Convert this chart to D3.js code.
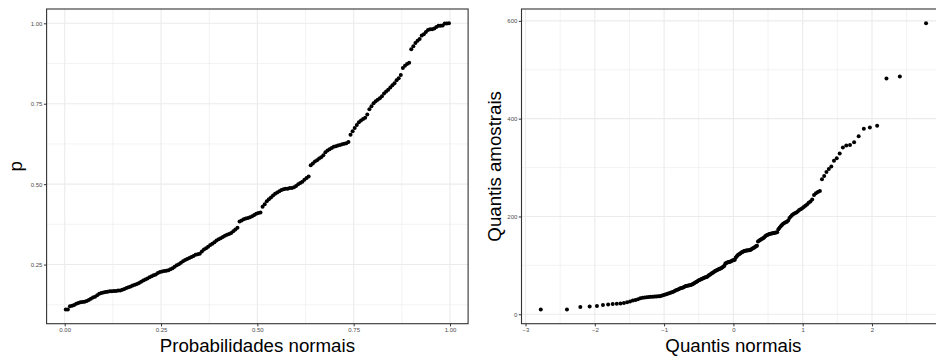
<!DOCTYPE html>
<html><head><meta charset="utf-8">
<script src="https://cdn.jsdelivr.net/npm/d3@7"></script>
<style>
body{margin:0;background:#fff}
svg{display:block}
text{font-family:"Liberation Sans",Arial,Helvetica,sans-serif}
</style>
</head><body>
<svg id="chart" width="936" height="356"></svg>
<script>
const sampleValues = [
 10,10,15,16,17,19,20,21,21.5,22,
 23,24.5,26,28,29,31,33,34,34.5,35,
 35.5,36,36,36.5,36.5,37,37,38,39,40,
 41,42,43,44,45,46,47.5,49,50,51,
 52.5,53.5,54.5,55.5,57,58,58.5,59,59.5,60,
 61,62,63.5,65,66,67.5,69,70,71,72,
 73,74,75,75.5,76,78,80,81,82.5,84,
 85,86.5,88,89,90,91,92,93,93.5,94.5,
 96,97.5,99,104,105,106,106.5,107,107.5,108.5,
 109.5,110.5,111,111.5,116,118,120.5,122,123.5,125,
 126.5,127.5,128.5,129.5,130,130.5,130.5,131,131,131.5,
 132.5,134,135,136,137.5,139,140,149,150.5,152,
 153,154.5,155.5,157,159.5,161,162,163,164,164.5,
 165,165.5,166,166.5,167,168,174,177,180,182.5,
 185,186.5,188,189,192,197,200,203,205,206.5,
 208,210,213,215,217,219.5,222,224.5,228,230.5,
 234.5,244,247.5,250,252,276,283,291,297,302,
 314,319,329,341,345,346,352,364,379.5,382,
 385.5,482,486,595
];
const leftXTicks = [0, 0.25, 0.5, 0.75, 1];
const leftYTicks = [0.25, 0.5, 0.75, 1];
const rightXTicks = [-3, -2, -1, 0, 1, 2];
const rightYTicks = [0, 200, 400, 600];
const leftTitles = ["Probabilidades normais", "p"];
const rightTitles = ["Quantis normais", "Quantis amostrais"];

function qnorm(p){
  const a=[-3.969683028665376e+01,2.209460984245205e+02,-2.759285104469687e+02,1.383577518672690e+02,-3.066479806614716e+01,2.506628277459239e+00];
  const b=[-5.447609879822406e+01,1.615858368580409e+02,-1.556989798598866e+02,6.680131188771972e+01,-1.328068155288572e+01];
  const c=[-7.784894002430293e-03,-3.223964580411365e-01,-2.400758277161838e+00,-2.549732539343734e+00,4.374664141464968e+00,2.938163982698783e+00];
  const d=[7.784695709041462e-03,3.224671290700398e-01,2.445134137142996e+00,3.754408661907416e+00];
  const pl=0.02425, ph=1-pl; let q,r;
  if(p<pl){q=Math.sqrt(-2*Math.log(p));return (((((c[0]*q+c[1])*q+c[2])*q+c[3])*q+c[4])*q+c[5])/((((d[0]*q+d[1])*q+d[2])*q+d[3])*q+1);}
  if(p>ph){q=Math.sqrt(-2*Math.log(1-p));return -(((((c[0]*q+c[1])*q+c[2])*q+c[3])*q+c[4])*q+c[5])/((((d[0]*q+d[1])*q+d[2])*q+d[3])*q+1);}
  q=p-0.5;r=q*q;return (((((a[0]*r+a[1])*r+a[2])*r+a[3])*r+a[4])*r+a[5])*q/(((((b[0]*r+b[1])*r+b[2])*r+b[3])*r+b[4])*r+1);
}
function pnorm(z){
  const t=1/(1+0.2316419*Math.abs(z));
  const dd=0.3989422804014327*Math.exp(-z*z/2);
  const p=dd*t*(0.319381530+t*(-0.356563782+t*(1.781477937+t*(-1.821255978+t*1.330274429))));
  return z>0?1-p:p;
}

const n = sampleValues.length;
const sorted = sampleValues.slice().sort((a,b)=>a-b);
const mu = d3.mean(sorted), sd = d3.deviation(sorted);
const pp = sorted.map((v,i)=>(i+0.5)/n);
const leftData = sorted.map((v,i)=>({x:pp[i], y:pnorm((v-mu)/sd)}));
const rightData = sorted.map((v,i)=>({x:qnorm(pp[i]), y:v}));

function expand(ext){ const r=ext[1]-ext[0]; return [ext[0]-0.05*r, ext[1]+0.05*r]; }
function minorOf(ticks){ const m=[]; const step=ticks[1]-ticks[0];
  const all=[ticks[0]-step, ...ticks, ticks[ticks.length-1]+step];
  for(let i=0;i<all.length-1;i++) m.push((all[i]+all[i+1])/2); return m; }

const svg = d3.select("#chart");
svg.append("rect").attr("width",936).attr("height",356).attr("fill","#fff");

function panel(cfg){
  const {left,right,top,bottom,data,xTicks,yTicks,xFmt,yFmt,titles,yTitleX} = cfg;
  const x = d3.scaleLinear().domain(expand(d3.extent(data,d=>d.x))).range([left,right]);
  const y = d3.scaleLinear().domain(expand(d3.extent(data,d=>d.y))).range([bottom,top]);
  const g = svg.append("g");
  const inX = v => v>=x.domain()[0] && v<=x.domain()[1];
  const inY = v => v>=y.domain()[0] && v<=y.domain()[1];
  const gx = g.append("g");
  gx.selectAll(".mx").data(minorOf(xTicks).filter(inX)).join("line")
    .attr("x1",d=>x(d)).attr("x2",d=>x(d)).attr("y1",top).attr("y2",bottom)
    .attr("stroke","#ebebeb").attr("stroke-width",0.6);
  gx.selectAll(".my").data(minorOf(yTicks).filter(inY)).join("line")
    .attr("y1",d=>y(d)).attr("y2",d=>y(d)).attr("x1",left).attr("x2",right)
    .attr("stroke","#ebebeb").attr("stroke-width",0.6);
  gx.selectAll(".Mx").data(xTicks.filter(inX)).join("line")
    .attr("x1",d=>x(d)).attr("x2",d=>x(d)).attr("y1",top).attr("y2",bottom)
    .attr("stroke","#ebebeb").attr("stroke-width",1.1);
  gx.selectAll(".My").data(yTicks.filter(inY)).join("line")
    .attr("y1",d=>y(d)).attr("y2",d=>y(d)).attr("x1",left).attr("x2",right)
    .attr("stroke","#ebebeb").attr("stroke-width",1.1);
  g.append("g").selectAll("circle").data(data).join("circle")
    .attr("cx",d=>x(d.x)).attr("cy",d=>y(d.y)).attr("r",2).attr("fill","#000");
  g.append("rect").attr("x",left).attr("y",top).attr("width",right-left).attr("height",bottom-top)
    .attr("fill","none").attr("stroke","#333").attr("stroke-width",1.1);
  const ax = g.append("g").attr("transform",`translate(0,${bottom})`)
    .call(d3.axisBottom(x).tickValues(xTicks.filter(inX)).tickFormat(xFmt).tickSize(2.7).tickPadding(1.5));
  const ay = g.append("g").attr("transform",`translate(${left},0)`)
    .call(d3.axisLeft(y).tickValues(yTicks.filter(inY)).tickFormat(yFmt).tickSize(2.7).tickPadding(1.5));
  [ax,ay].forEach(a=>{
    a.select(".domain").remove();
    a.selectAll(".tick line").attr("stroke","#333").attr("stroke-width",1);
    a.selectAll(".tick text").attr("fill","#4d4d4d").style("font-size","6px")
      .style("font-family","'Liberation Sans',Arial,sans-serif");
  });
  g.append("text").attr("x",(left+right)/2).attr("y",351.5).attr("text-anchor","middle")
    .attr("fill","#000").style("font-size","18.7px").text(titles[0]);
  g.append("text").attr("transform",`translate(${yTitleX},${(top+bottom)/2}) rotate(-90)`)
    .attr("text-anchor","middle").attr("fill","#000").style("font-size","18.7px").text(titles[1]);
}

panel({left:46.6,right:468.1,top:9,bottom:323.7,data:leftData,
  xTicks:leftXTicks,yTicks:leftYTicks,xFmt:d3.format(".2f"),yFmt:d3.format(".2f"),
  titles:leftTitles,yTitleX:21.5});
panel({left:521.5,right:945.3,top:9,bottom:323.7,data:rightData,
  xTicks:rightXTicks,yTicks:rightYTicks,xFmt:d3.format("d"),yFmt:d3.format("d"),
  titles:rightTitles,yTitleX:501});
</script>
</body></html>
